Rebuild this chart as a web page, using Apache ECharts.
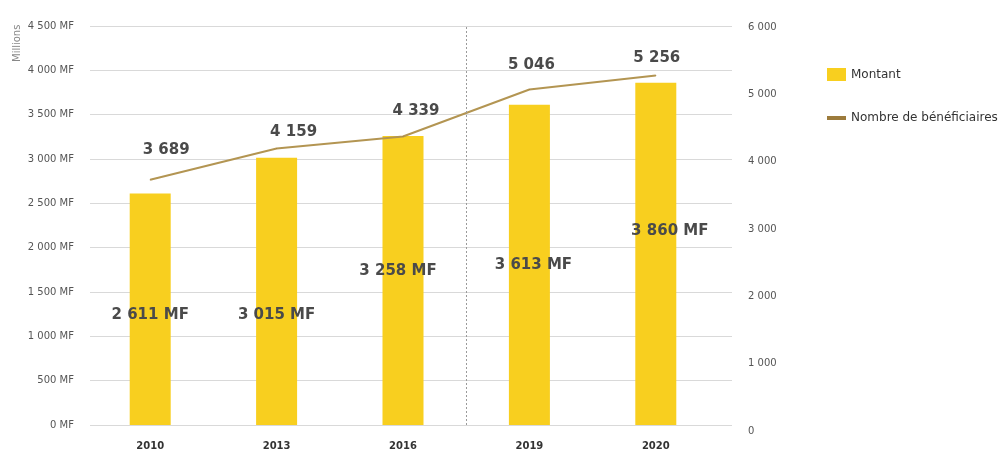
<!DOCTYPE html>
<html>
<head>
<meta charset="utf-8">
<script src="https://cdn.jsdelivr.net/npm/echarts@6/dist/echarts.min.js"></script>
<style>
  html, body { margin: 0; padding: 0; background: #fff; }
  #chart { width: 1002px; height: 452px; }
</style>
</head>
<body>
<div id="chart"></div>
<script>
        // données
        const annees = ['2010', '2013', '2016', '2019', '2020'];
        const montant = [2611, 3015, 3258, 3613, 3860];           // millions MF
        const beneficiaires = [3689, 4159, 4339, 5046, 5256];

        // décalage des étiquettes (mise en page seulement)
        const decalBarres = [[0, 6], [0, 24], [-5, -9], [4, 0], [14, -23]];
        const decalLigne = [[16, -17], [17, -3], [13, -12], [2, -11], [1, -4]];

        const police = 'DejaVu Sans';
        const sepMilliers = v => String(v).replace(/\B(?=(\d{3})+(?!\d))/g, ' ');

        const myChart = echarts.init(document.getElementById('chart'));

        const option = {
            animation: false,
            textStyle: { fontFamily: police },
            grid: [
                // barres + ligne
                {left: 87, width: 632, top: 26, bottom: 27},
                // quadrillage et axe de gauche
                {left: 90, right: 270, top: 26, bottom: 27},
                // axe de droite
                {left: 90, right: 270, top: 27, bottom: 21}
            ],
            legend: [
                {
                    data: [{name: 'Montant', icon: 'rect'}],
                    left: 827, top: 68, padding: 0,
                    itemWidth: 19, itemHeight: 13,
                    textStyle: {color: '#333', fontSize: 12, fontFamily: police}
                },
                {
                    data: [{name: 'Nombre de bénéficiaires', icon: 'rect'}],
                    left: 827, top: 112, padding: 0,
                    itemWidth: 19, itemHeight: 4,
                    textStyle: {color: '#333', fontSize: 12, fontFamily: police}
                }
            ],
            graphic: [{
                type: 'text',
                x: 12, y: 62, rotation: Math.PI / 2,
                style: {text: 'Millions', fill: '#888', font: '10px "DejaVu Sans"'}
            }],
            xAxis: [
                {
                    type: 'category', gridIndex: 0, data: annees,
                    axisLine: {show: false}, axisTick: {show: false},
                    axisLabel: {margin: 16, color: '#333', fontSize: 10, fontWeight: 'bold', fontFamily: police}
                },
                {type: 'value', gridIndex: 1, show: false, min: 0, max: 1},
                {type: 'value', gridIndex: 2, show: false, min: 0, max: 1},
                {type: 'value', gridIndex: 0, show: false, min: 0, max: 5}
            ],
            yAxis: [
                {type: 'value', gridIndex: 0, show: false, min: 0, max: 4500, interval: 500},
                {type: 'value', gridIndex: 0, show: false, min: 0, max: 6000, interval: 1000, position: 'right'},
                {
                    type: 'value', gridIndex: 1, min: 0, max: 4500, interval: 500,
                    axisLine: {show: false}, axisTick: {show: false},
                    splitLine: {lineStyle: {color: '#d9d9d9', width: 1}},
                    axisLabel: {
                        margin: 16, color: '#555', fontSize: 10, fontFamily: police,
                        formatter: v => sepMilliers(v) + ' MF'
                    }
                },
                {
                    type: 'value', gridIndex: 2, position: 'right', min: 0, max: 6000, interval: 1000,
                    axisLine: {show: false}, axisTick: {show: false}, splitLine: {show: false},
                    axisLabel: {margin: 16, color: '#555', fontSize: 10, fontFamily: police, formatter: v => sepMilliers(v)}
                }
            ],
            series: [
                {
                    name: 'Montant',
                    type: 'bar',
                    xAxisIndex: 0, yAxisIndex: 0,
                    barWidth: 41,
                    itemStyle: {color: '#F8CF1F'},
                    data: montant.map((v, i) => ({
                        value: v,
                        label: {offset: decalBarres[i]}
                    })),
                    label: {
                        show: true, position: 'inside',
                        color: '#4a4a4a', fontSize: 15, fontWeight: 'bold', fontFamily: police,
                        formatter: p => sepMilliers(p.value) + ' MF'
                    },
                    z: 2
                },
                {
                    name: 'Nombre de bénéficiaires',
                    type: 'line',
                    xAxisIndex: 0, yAxisIndex: 1,
                    symbol: 'circle',
                    symbolSize: 1,
                    showSymbol: true,
                    lineStyle: {color: '#B39552', width: 2},
                    itemStyle: {color: '#9C7B3C'},
                    data: beneficiaires.map((v, i) => ({
                        value: v,
                        label: {offset: decalLigne[i]}
                    })),
                    label: {
                        show: true, position: 'top', distance: 5,
                        color: '#4a4a4a', fontSize: 15, fontWeight: 'bold', fontFamily: police,
                        formatter: p => sepMilliers(p.value)
                    },
                    z: 3
                },
                {
                    // séparation pointillée entre 2016 et 2019
                    type: 'scatter',
                    xAxisIndex: 3, yAxisIndex: 0,
                    data: [],
                    markLine: {
                        silent: true,
                        symbol: 'none',
                        label: {show: false},
                        lineStyle: {color: '#9a9a9a', type: [2, 2], width: 1},
                        data: [{xAxis: 3}]
                    }
                }
            ]
        };

        myChart.setOption(option);
</script>
</body>
</html>
